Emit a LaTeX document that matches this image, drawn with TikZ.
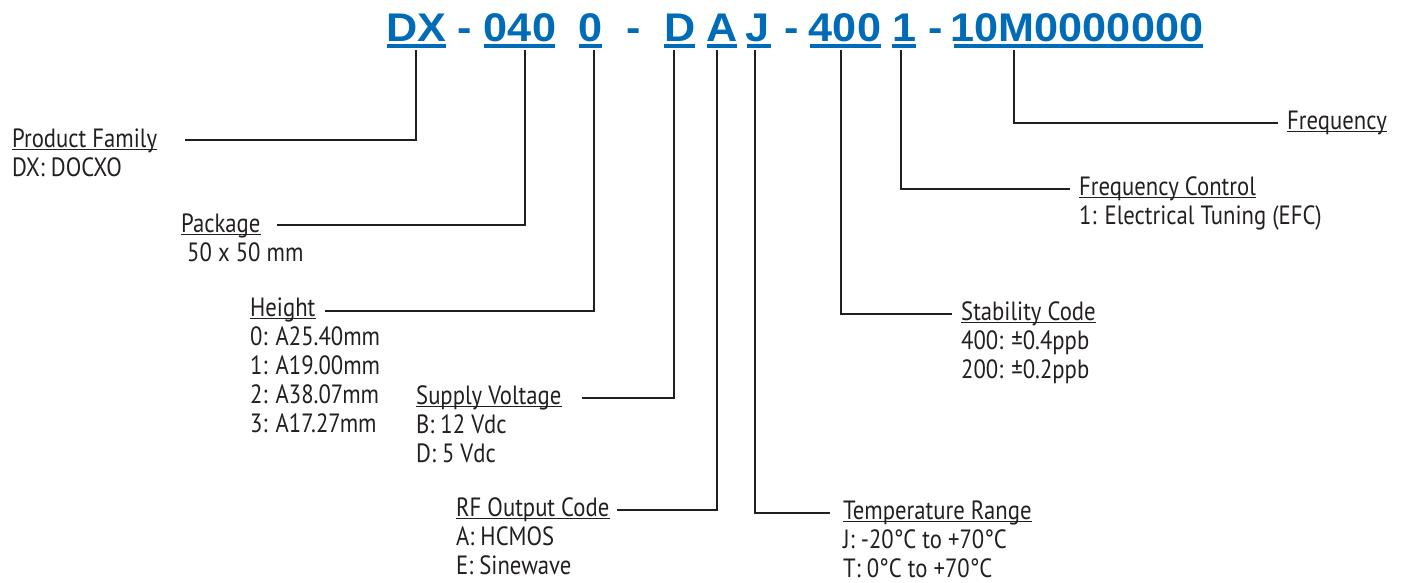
\documentclass[tikz,border=0pt]{standalone}
\usepackage{fontspec}
\setmainfont{PT Sans}[FakeStretch=0.86]
\newfontfamily\titlefont{Liberation Sans}[FakeStretch=1.08]
\definecolor{pnblue}{RGB}{0,107,182}
\definecolor{ink}{RGB}{35,31,32}
\begin{document}
\begin{tikzpicture}[x=1pt,y=-1pt,
  tok/.style={font=\titlefont\bfseries\fontsize{40}{40}\selectfont, text=pnblue, inner sep=0pt, anchor=base},
  lab/.style={font=\fontsize{26.4}{29}\selectfont, text=ink, inner sep=0pt, anchor=base west},
  hdline/.style={draw=ink, line width=1.3pt},
  ulbar/.style={draw=pnblue, line width=4pt},
  conn/.style={draw=ink, line width=2.4pt, line join=miter}]
\useasboundingbox (0,0) rectangle (1406,582);

% title tokens
\node[tok] (tDX)  at (416.5,41) {DX};
\node[tok] (d1)   at (465,41)   {-};
\node[tok] (tPK)  at (520,41)   {040};
\node[tok] (tHT)  at (591,41)   {0};
\node[tok] (d2)   at (634,41)   {-};
\node[tok] (tSV)  at (680,41)   {D};
\node[tok] (tRF)  at (722,41)   {A};
\node[tok] (tTR)  at (758,41)   {J};
\node[tok] (d3)   at (792,41)   {-};
\node[tok] (tST)  at (845,41)   {400};
\node[tok] (tFC)  at (905,41)   {1};
\node[tok] (d4)   at (936,41)   {-};
\node[tok] (tFQ)  at (1077,41)  {10M0000000};

% underlines of the title tokens
\draw[ulbar] (387,46) -- (446,46);
\draw[ulbar] (484,46) -- (555,46);
\draw[ulbar] (579,46) -- (602,46);
\draw[ulbar] (664,46) -- (695,46);
\draw[ulbar] (707,46) -- (737,46);
\draw[ulbar] (747,46) -- (771,46);
\draw[ulbar] (810,46) -- (881,46);
\draw[ulbar] (892,46) -- (916,46);
\draw[ulbar] (954,46) -- (1203,46);

% connector start points (below underlines)
\coordinate (uDX) at (416,50);
\coordinate (uPK) at (525,50);
\coordinate (uHT) at (594,50);
\coordinate (uSV) at (674,50);
\coordinate (uRF) at (717,50);
\coordinate (uTR) at (755,50);
\coordinate (uST) at (841,50);
\coordinate (uFC) at (901,50);
\coordinate (uFQ) at (1014,50);

% connector end points
\coordinate (ePF) at (185,140);
\coordinate (ePK) at (277,225);
\coordinate (eHT) at (325,311);
\coordinate (eSV) at (582,398);
\coordinate (eRF) at (617,510);
\coordinate (eTR) at (830,513);
\coordinate (eST) at (952,314);
\coordinate (eFC) at (1070,189);
\coordinate (eFQ) at (1278,123);

\draw[conn] (uDX) |- (ePF);
\draw[conn] (uPK) |- (ePK);
\draw[conn] (uHT) |- (eHT);
\draw[conn] (uSV) |- (eSV);
\draw[conn] (uRF) |- (eRF);
\draw[conn] (uTR) |- (eTR);
\draw[conn] (uST) |- (eST);
\draw[conn] (uFC) |- (eFC);
\draw[conn] (uFQ) |- (eFQ);

% labels
\node[lab] (lPF)  at (12,147)  {Product Family};
\node[lab] (lPF1) at (12,176)  {DX: DOCXO};

\node[lab] (lPK)  at (181,232) {Package};
\node[lab] (lPK1) at (187,261) {50 x 50 mm};

\node[lab] (lHT)  at (250,316) {Height};
\node[lab] (lHT1) at (250,345) {0: A25.40mm};
\node[lab] (lHT2) at (250,374) {1: A19.00mm};
\node[lab] (lHT3) at (250,403) {2: A38.07mm};
\node[lab] (lHT4) at (250,432) {3: A17.27mm};

\node[lab] (lSV)  at (416,404) {Supply Voltage};
\node[lab] (lSV1) at (416,433) {B: 12 Vdc};
\node[lab] (lSV2) at (416,462) {D: 5 Vdc};

\node[lab] (lRF)  at (456,516) {RF Output Code};
\node[lab] (lRF1) at (456,545) {A: HCMOS};
\node[lab] (lRF2) at (456,574) {E: Sinewave};

\node[lab] (lTR)  at (843,519) {Temperature Range};
\node[lab] (lTR1) at (843,548) {J: -20°C to +70°C};
\node[lab] (lTR2) at (843,577) {T: 0°C to +70°C};

\node[lab] (lST)  at (961,320) {Stability Code};
\node[lab] (lST1) at (961,349) {400: ±0.4ppb};
\node[lab] (lST2) at (961,378) {200: ±0.2ppb};

\node[lab] (lFC)  at (1079,195) {Frequency Control};
\node[lab] (lFC1) at (1079,224) {1: Electrical Tuning (EFC)};

\node[lab] (lFQ)  at (1287,129) {Frequency};

% underlines of the label headings
\foreach \n in {lPF,lPK,lHT,lSV,lRF,lTR,lST,lFC,lFQ}
  \draw[hdline] ([yshift=-2.4pt]\n.base west) -- ([yshift=-2.4pt]\n.base east);
\end{tikzpicture}
\end{document}
